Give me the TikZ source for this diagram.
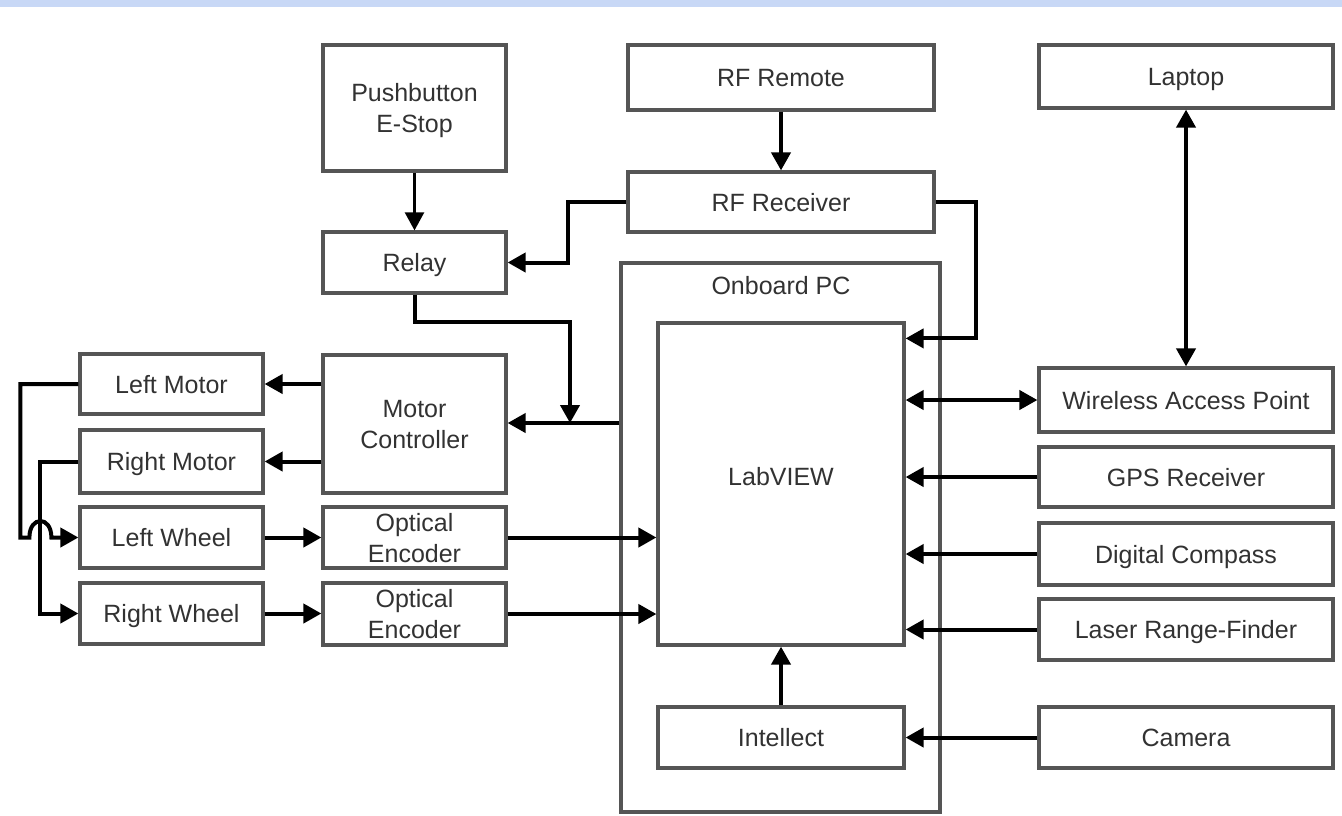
\documentclass[tikz,border=0pt]{standalone}
\usepackage{fontspec}
\setmainfont{Liberation Sans}
\usetikzlibrary{arrows.meta,positioning}
\definecolor{bandblue}{RGB}{200,216,246}
\definecolor{boxgray}{RGB}{85,85,85}
\definecolor{txtgray}{RGB}{50,50,50}

\begin{document}
\begin{tikzpicture}[x=0.5pt,y=-0.5pt,font=\fontsize{12.5}{15.5}\selectfont,
    blk/.style={rectangle,draw=boxgray,line width=1.6pt,text=txtgray,align=center,inner sep=0pt,text depth=0pt},
    one/.style={blk,text height=9pt},
    sig/.style={black,line width=2pt,-{Triangle[length=9pt,width=9.5pt]}},
    sigthin/.style={sig,line width=1.2pt},
    sigboth/.style={sig,{Triangle[length=9pt,width=9.5pt]}-{Triangle[length=9pt,width=9.5pt]}}]
      \useasboundingbox (0,0) rectangle (1342,815);
      \fill[bandblue] (0,0) rectangle (1342,7);

      % top row
      \node[blk,minimum width=91.5pt,minimum height=63pt] (estop) at (414.5,108) {Pushbutton\\E-Stop};
      \node[one,minimum width=153pt,minimum height=32.5pt] (remote) at (781,77.5) {RF Remote};
      \node[one,minimum width=147pt,minimum height=31.5pt] (laptop) at (1186,76.5) {Laptop};
      \node[one,minimum width=153pt,minimum height=30pt] (rxr) at (781,202) {RF Receiver};
      \node[one,minimum width=91.5pt,minimum height=30.5pt] (relay) at (414.5,262.5) {Relay};

      % onboard pc
      \node[blk,minimum width=159.5pt,minimum height=274.5pt] (pc) at (780.5,537.5) {};
      \node[text=txtgray] (pclbl) at (781,286) {Onboard PC};
      \node[one,text depth=8pt,minimum width=123pt,minimum height=161pt] (lab) at (781,484) {LabVIEW};
      \node[one,minimum width=123pt,minimum height=30.5pt] (intel) at (781,737.5) {Intellect};

      % drive side
      \node[blk,minimum width=91.5pt,minimum height=69pt] (mctl) at (414.5,424) {Motor\\Controller};
      \node[one,minimum width=91.5pt,minimum height=30pt] (lmot) at (171.5,384) {Left Motor};
      \node[one,minimum width=91.5pt,minimum height=31.5pt] (rmot) at (171.5,461.5) {Right Motor};
      \node[one,minimum width=91.5pt,minimum height=30.5pt] (lwh) at (171.5,537.5) {Left Wheel};
      \node[one,minimum width=91.5pt,minimum height=30.5pt] (rwh) at (171.5,613.5) {Right Wheel};
      \node[blk,minimum width=91.5pt,minimum height=30.5pt] (enc1) at (414.5,537.5) {Optical\\Encoder};
      \node[blk,minimum width=91.5pt,minimum height=31pt] (enc2) at (414.5,614) {Optical\\Encoder};

      % sensors
      \node[one,minimum width=147pt,minimum height=32pt] (wap) at (1186,400) {Wireless Access Point};
      \node[one,minimum width=147pt,minimum height=30pt] (gps) at (1186,477) {GPS Receiver};
      \node[one,minimum width=147pt,minimum height=31pt] (comp) at (1186,554) {Digital Compass};
      \node[one,minimum width=147pt,minimum height=30.5pt] (laser) at (1186,629.5) {Laser Range-Finder};
      \node[one,minimum width=147pt,minimum height=30.5pt] (cam) at (1186,737.5) {Camera};

      % e-stop and remote
      \draw[sigthin] (estop) -- (relay);
      \draw[sig] (remote) -- (rxr);
      \draw[sig] (rxr.west) -- ++(-58,0) |- (relay.east);
      \draw[sig] (rxr.east) -- ++(40,0) |- ([yshift=-8.5pt]lab.north east);

      % relay -> motor controller
      \coordinate (jn) at (570,423);
      \draw[sig] (relay.south) -- ++(0,27) -| (jn);
      \draw[sig] (pc.west |- jn) -- (mctl.east |- jn);

      % motor controller -> motors
      \draw[sig] (mctl.west |- lmot.east) -- (lmot.east);
      \draw[sig] (mctl.west |- rmot.east) -- (rmot.east);

      % motors -> wheels
      \draw[sig] (rmot.west) -- ++(-38,0) |- (rwh.west);
      \draw[sig] (lmot.west) -- ++(-58,0) |- ([xshift=-24.5pt]lwh.west) .. controls +(0,-22) and +(0,-22) .. ([xshift=-13.5pt]lwh.west) -- (lwh.west);

      % wheels -> encoders -> labview
      \draw[sig] (lwh) -- (enc1);
      \draw[sig] (rwh.east) -- (enc2.west |- rwh.east);
      \draw[sig] (enc1.east) -- (lab.west |- enc1.east);
      \draw[sig] (enc2.east) -- (lab.west |- enc2.east);

      % sensors -> labview
      \draw[sigboth] (laptop) -- (wap);
      \draw[sigboth] (wap.west) -- (lab.east |- wap.west);
      \draw[sig] (gps.west) -- (lab.east |- gps.west);
      \draw[sig] (comp.west) -- (lab.east |- comp.west);
      \draw[sig] (laser.west) -- (lab.east |- laser.west);
      \draw[sig] (cam) -- (intel);
      \draw[sig] (intel) -- (lab);

   \end{tikzpicture}
\end{document}
